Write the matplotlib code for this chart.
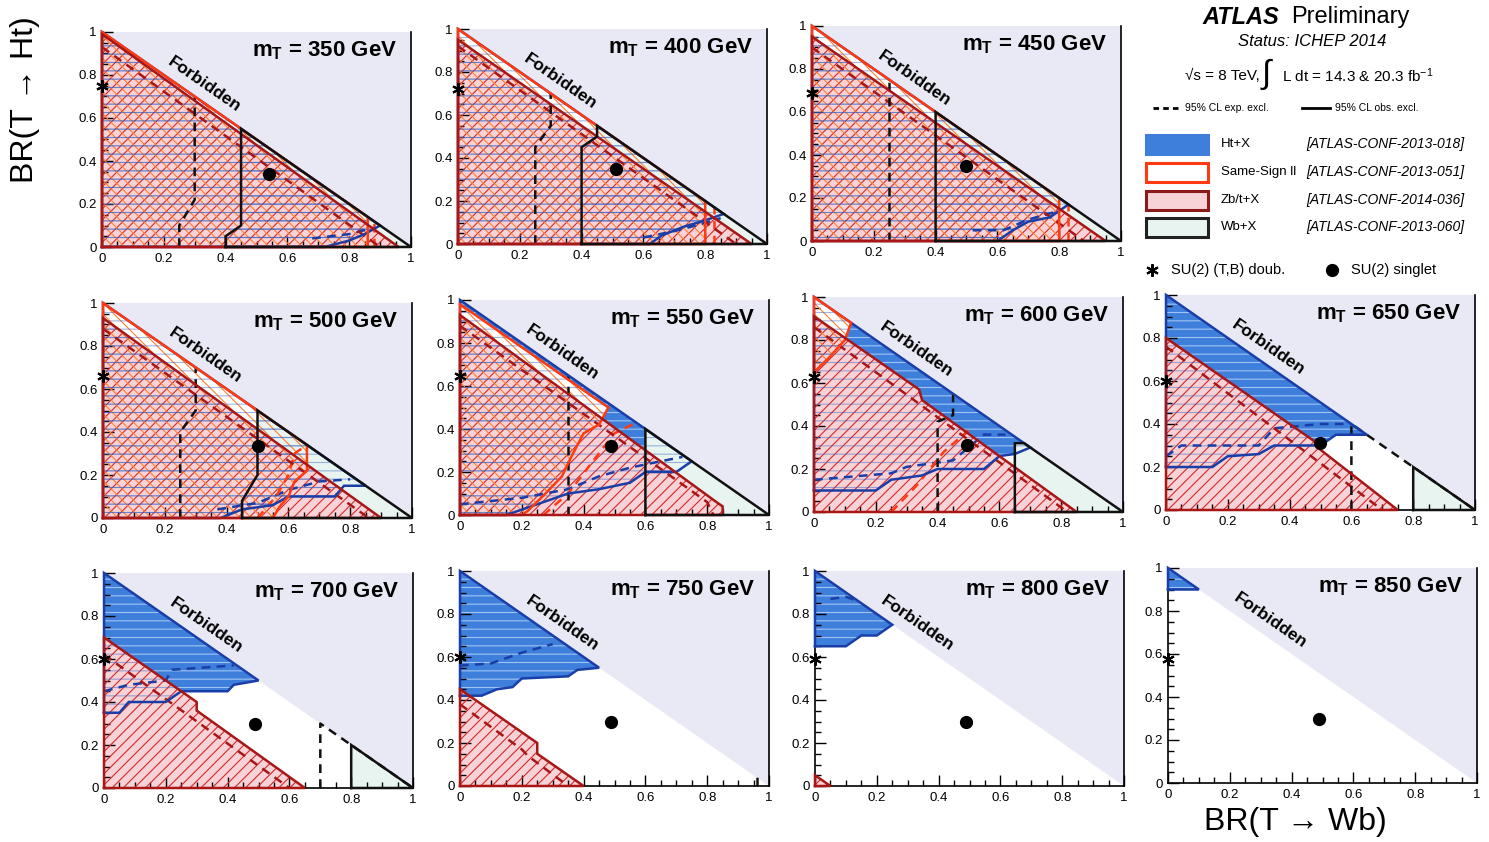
import numpy as np
import matplotlib
matplotlib.use("Agg")
import matplotlib.pyplot as plt
from matplotlib.patches import Polygon, Rectangle
from matplotlib.ticker import MultipleLocator, FuncFormatter

plt.rcParams["font.family"] = ["Liberation Sans", "DejaVu Sans"]
plt.rcParams["mathtext.fontset"] = "custom"
plt.rcParams["mathtext.rm"] = "Liberation Sans"
plt.rcParams["mathtext.it"] = "Liberation Sans:italic"
plt.rcParams["mathtext.bf"] = "Liberation Sans:bold"
plt.rcParams["hatch.linewidth"] = 0.8

# T quark masses (GeV), one panel each
masses = [350, 400, 450, 500, 550, 600, 650, 700, 750, 800, 850]

# benchmark points: SU(2) singlet (Wb, Ht) and SU(2) doublet (Wb = 0, Ht)
singlet_wb = [0.54, 0.51, 0.50, 0.50, 0.49, 0.495, 0.497, 0.49, 0.49, 0.49, 0.49]
singlet_ht = [0.34, 0.35, 0.35, 0.335, 0.32, 0.31, 0.31, 0.30, 0.30, 0.30, 0.30]
doublet_ht = [0.75, 0.72, 0.69, 0.66, 0.645, 0.63, 0.60, 0.60, 0.60, 0.59, 0.575]

# observed / expected 95% CL excluded regions, (BR(Wb), BR(Ht)) vertices
zbt_obs = {
    350: [(0, 0), (0, 0.99), (0.96, 0)],
    400: [(0, 0), (0, 0.95), (0.95, 0)],
    450: [(0, 0), (0, 0.95), (0.95, 0)],
    500: [(0, 0), (0, 0.93), (0.90, 0)],
    550: [(0, 0), (0, 0.93), (0.83, 0.06), (0.85, 0.04), (0.85, 0)],
    600: [(0, 0), (0, 0.91), (0.34, 0.57), (0.35, 0.52), (0.85, 0)],
    650: [(0, 0), (0, 0.80), (0.48, 0.32), (0.50, 0.28), (0.75, 0)],
    700: [(0, 0), (0, 0.70), (0.30, 0.40), (0.30, 0.36), (0.65, 0)],
    750: [(0, 0), (0, 0.45), (0.25, 0.20), (0.25, 0.15), (0.40, 0)],
    800: [(0, 0), (0, 0.05), (0.05, 0)],
}
zbt_exp = {
    350: [(0, 0.93), (0.90, 0)],
    400: [(0, 0.92), (0.90, 0)],
    450: [(0, 0.90), (0.88, 0)],
    500: [(0, 0.88), (0.86, 0)],
    550: [(0, 0.88), (0.80, 0.06), (0.82, 0)],
    600: [(0, 0.86), (0.82, 0)],
    650: [(0, 0.76), (0.70, 0)],
    700: [(0, 0.62), (0.60, 0)],
    750: [(0, 0.38), (0.20, 0.17), (0.22, 0.14), (0.35, 0)],
}
ss_obs = {
    350: [(0, 0), (0, 1), (0.86, 0.14), (0.86, 0)],
    400: [(0, 0), (0, 1), (0.80, 0.20), (0.80, 0)],
    450: [(0, 0), (0, 1), (0.80, 0.20), (0.80, 0)],
    500: [(0, 0), (0, 1), (0.66, 0.34), (0.66, 0.22), (0.62, 0.17),
          (0.60, 0.10), (0.57, 0.05), (0.55, 0)],
    550: [(0, 0), (0, 0.98), (0.48, 0.50), (0.45, 0.42), (0.40, 0.38),
          (0.36, 0.27), (0.33, 0.18), (0.27, 0.09), (0.22, 0.02), (0.20, 0)],
    600: [(0, 0.65), (0, 1), (0.12, 0.88), (0.10, 0.80), (0.05, 0.72)],
}
ss_exp = {
    350: [(0.88, 0), (0.88, 0.12)],
    400: [(0.83, 0), (0.83, 0.17)],
    450: [(0.83, 0), (0.83, 0.17)],
    500: [(0.50, 0), (0.56, 0.10), (0.60, 0.20), (0.62, 0.30), (0.66, 0.34)],
    550: [(0.27, 0), (0.35, 0.10), (0.43, 0.25), (0.50, 0.38), (0.57, 0.43)],
    600: [(0.25, 0), (0.33, 0.12), (0.42, 0.28), (0.50, 0.38)],
}
ht_obs = {
    350: [(0, 0), (0, 1), (0.90, 0.10), (0.85, 0.06), (0.80, 0.03), (0.72, 0)],
    400: [(0, 0), (0, 1), (0.86, 0.14), (0.80, 0.11), (0.73, 0.08),
          (0.66, 0.04), (0.62, 0)],
    450: [(0, 0), (0, 1), (0.83, 0.17), (0.77, 0.11), (0.70, 0.09),
          (0.65, 0.05), (0.60, 0)],
    500: [(0, 0), (0, 1), (0.85, 0.15), (0.78, 0.15), (0.75, 0.10),
          (0.60, 0.10), (0.55, 0.06), (0.45, 0.04), (0.38, 0)],
    550: [(0, 0), (0, 1), (0.75, 0.25), (0.70, 0.20), (0.60, 0.20),
          (0.55, 0.15), (0.45, 0.12), (0.35, 0.10), (0.25, 0.05), (0.15, 0)],
    600: [(0, 0.10), (0, 1), (0.70, 0.30), (0.65, 0.27), (0.60, 0.26),
          (0.55, 0.20), (0.40, 0.20), (0.35, 0.17), (0.25, 0.15), (0.20, 0.10)],
    650: [(0, 0.20), (0, 1), (0.65, 0.35), (0.55, 0.35), (0.50, 0.30),
          (0.35, 0.30), (0.30, 0.26), (0.20, 0.25), (0.15, 0.20)],
    700: [(0, 0.35), (0, 1), (0.50, 0.50), (0.42, 0.48), (0.40, 0.45),
          (0.25, 0.45), (0.20, 0.40), (0.08, 0.40), (0.05, 0.35)],
    750: [(0, 0.42), (0, 1), (0.45, 0.55), (0.38, 0.54), (0.35, 0.51),
          (0.20, 0.50), (0.17, 0.46), (0.12, 0.45), (0.07, 0.42)],
    800: [(0, 0.65), (0, 1), (0.25, 0.75), (0.20, 0.70), (0.15, 0.70),
          (0.10, 0.65)],
    850: [(0, 0.90), (0, 1), (0.10, 0.90)],
}
ht_exp = {
    350: [(0.68, 0.04), (0.80, 0.06), (0.88, 0.09)],
    400: [(0.60, 0.03), (0.70, 0.06), (0.78, 0.09), (0.85, 0.12)],
    450: [(0.52, 0.05), (0.62, 0.05), (0.70, 0.10), (0.80, 0.14)],
    500: [(0.37, 0.04), (0.50, 0.07), (0.60, 0.13), (0.70, 0.17), (0.80, 0.18)],
    550: [(0, 0.05), (0.20, 0.08), (0.35, 0.12), (0.45, 0.18), (0.55, 0.22),
          (0.65, 0.25), (0.72, 0.27)],
    600: [(0, 0.15), (0.25, 0.18), (0.30, 0.21), (0.45, 0.24), (0.50, 0.30),
          (0.55, 0.36), (0.62, 0.36)],
    650: [(0, 0.25), (0.05, 0.30), (0.30, 0.30), (0.35, 0.38), (0.50, 0.40),
          (0.60, 0.40)],
    700: [(0, 0.45), (0.08, 0.48), (0.20, 0.50), (0.22, 0.55), (0.42, 0.57)],
    750: [(0, 0.56), (0.10, 0.57), (0.20, 0.62), (0.30, 0.66)],
    800: [(0.05, 0.87), (0.10, 0.88), (0.14, 0.86)],
}
wb_obs = {
    350: [(0.40, 0), (0.40, 0.05), (0.45, 0.10), (0.45, 0.55), (1, 0)],
    400: [(0.40, 0), (0.40, 0.45), (0.45, 0.50), (0.45, 0.55), (1, 0)],
    450: [(0.40, 0), (0.40, 0.60), (1, 0)],
    500: [(0.45, 0), (0.45, 0.08), (0.50, 0.20), (0.50, 0.50), (1, 0)],
    550: [(0.60, 0), (0.60, 0.40), (1, 0)],
    600: [(0.65, 0), (0.65, 0.32), (0.68, 0.32), (1, 0)],
    650: [(0.80, 0), (0.80, 0.20), (1, 0)],
    700: [(0.80, 0), (0.80, 0.20), (1, 0)],
}
wb_exp = {
    350: [(0.25, 0), (0.25, 0.10), (0.30, 0.22), (0.30, 0.70)],
    400: [(0.25, 0), (0.25, 0.45), (0.30, 0.55), (0.30, 0.70)],
    450: [(0.25, 0), (0.25, 0.75)],
    500: [(0.25, 0), (0.25, 0.40), (0.30, 0.50), (0.30, 0.70)],
    550: [(0.35, 0), (0.35, 0.65)],
    600: [(0.40, 0), (0.40, 0.42), (0.45, 0.45), (0.45, 0.55)],
    650: [(0.60, 0), (0.60, 0.40), (1, 0)],
    700: [(0.70, 0), (0.70, 0.30), (1, 0)],
    750: [(0.96, 0), (0.96, 0.04)],
}

# colours
FORBID = "#e9e9f5"
HT_FILL, HT_LIGHT, HT_DARK, HT_LINE = "#3f7fdc", "#9fc3f2", "#3060c8", "#1a3ea8"
SS_HATCH, SS_LINE = "#ff8030", "#ff3a10"
ZBT_FILL, ZBT_HATCH, ZBT_LINE = "#f7d2d6", "#d42a2a", "#a81616"
WB_FILL, WB_LINE = "#e8f4ef", "#111111"

W, H = 1489, 842
PW, PH = 309, 215
panel_left = [102, 458, 812, 103, 460, 814, 1166, 104, 460, 815, 1168]
panel_bottom = [247, 244, 241, 518, 515, 512, 510, 788, 786, 786, 783]

fig = plt.figure(figsize=(W / 100, H / 100), dpi=100)
text_angle = -np.degrees(np.arctan2(PH, PW))


def xs_ys(pts, close=False):
    xs = [p[0] for p in pts]
    ys = [p[1] for p in pts]
    if close:
        xs.append(xs[0])
        ys.append(ys[0])
    return xs, ys


def draw_panel(ax, m, sx, sy, dy):
    ax.set_xlim(0, 1)
    ax.set_ylim(0, 1)
    ax.fill([0, 1, 1], [1, 1, 0], color=FORBID, lw=0, zorder=0)

    covers = []
    if m in ht_obs:
        ax.add_patch(Polygon(ht_obs[m], facecolor=HT_FILL, edgecolor="none", zorder=1))
        ax.add_patch(Polygon(ht_obs[m], fill=False, hatch="--", edgecolor=HT_LIGHT,
                             lw=0, zorder=1.01))
    if m in ss_obs:
        p = Polygon(ss_obs[m], facecolor="white", edgecolor="none", zorder=1.1)
        ax.add_patch(p)
        covers.append(p)
    if m in wb_obs:
        p = Polygon(wb_obs[m], facecolor=WB_FILL, edgecolor="none", zorder=1.2)
        ax.add_patch(p)
        covers.append(p)
    if m in zbt_obs:
        p = Polygon(zbt_obs[m], facecolor=ZBT_FILL, edgecolor="none", zorder=1.3)
        ax.add_patch(p)
        covers.append(p)
        ax.add_patch(Polygon(zbt_obs[m], fill=False, hatch="///", edgecolor=ZBT_HATCH,
                             lw=0, zorder=2.0))
    if m in ss_obs:
        ax.add_patch(Polygon(ss_obs[m], fill=False, hatch="\\\\\\", edgecolor=SS_HATCH,
                             lw=0, zorder=2.1))
    if m in ht_obs:
        # Ht+X stripes stay visible where other fills sit on top of it
        for c in covers:
            h = Polygon(ht_obs[m], fill=False, hatch="--", edgecolor=HT_DARK,
                        lw=0, zorder=2.2, alpha=0.45)
            ax.add_patch(h)
            h.set_clip_path(c)

    # expected (dashed) then observed (solid) contours
    for data, col in [(ht_exp, HT_LINE), (ss_exp, SS_LINE), (zbt_exp, ZBT_LINE),
                      (wb_exp, WB_LINE)]:
        if m in data:
            x, y = xs_ys(data[m])
            ax.plot(x, y, color=col, lw=1.8, ls=(0, (3.5, 2.5)), zorder=3,
                    clip_on=False)
    for data, col in [(ht_obs, HT_LINE), (ss_obs, SS_LINE), (zbt_obs, ZBT_LINE),
                      (wb_obs, WB_LINE)]:
        if m in data:
            x, y = xs_ys(data[m], close=True)
            ax.plot(x, y, color=col, lw=1.8, zorder=4, clip_on=False,
                    solid_joinstyle="miter")

    ax.plot([0], [dy], marker=(6, 2, 0), ms=9, mew=1.5, color="black",
            zorder=5, clip_on=False)
    ax.plot([sx], [sy], marker="o", ms=8.5, color="black", zorder=5)

    ax.text(0.33, 0.755, "Forbidden", rotation=text_angle, ha="center",
            va="center", fontsize=12.5, fontweight="bold", rotation_mode="anchor",
            zorder=6)
    ax.text(0.955, 0.885, "m$_\\mathbf{T}$ = %d GeV" % m, ha="right",
            va="baseline", fontsize=16, fontweight="bold", zorder=6)

    ax.xaxis.set_major_locator(MultipleLocator(0.2))
    ax.yaxis.set_major_locator(MultipleLocator(0.2))
    ax.xaxis.set_minor_locator(MultipleLocator(0.05))
    ax.yaxis.set_minor_locator(MultipleLocator(0.05))
    fmt = FuncFormatter(lambda v, p: "%g" % round(v, 2))
    ax.xaxis.set_major_formatter(fmt)
    ax.yaxis.set_major_formatter(fmt)
    ax.tick_params(which="both", direction="in", top=False, right=False,
                   labelsize=9.5, width=1.0)
    ax.tick_params(which="major", length=8, pad=4)
    ax.tick_params(which="minor", length=4)
    ax.spines["top"].set_visible(False)
    for s in ["left", "bottom", "right"]:
        ax.spines[s].set_linewidth(1.2)


for i, m in enumerate(masses):
    ax = fig.add_axes([panel_left[i] / W, 1 - panel_bottom[i] / H, PW / W, PH / H])
    draw_panel(ax, m, singlet_wb[i], singlet_ht[i], doublet_ht[i])

fig.text(25 / W, 1 - 100 / H, "BR(T → Ht)", rotation=90, ha="center",
         va="center", fontsize=23)
fig.text(1295 / W, 1 - 822 / H, "BR(T → Wb)", ha="center", va="center",
         fontsize=23)

# legend block, drawn in pixel units
lg = fig.add_axes([1130 / W, 1 - 290 / H, 359 / W, 290 / H])
lg.set_xlim(1130, 1489)
lg.set_ylim(290, 0)
lg.axis("off")

lg.text(1202, 17, "ATLAS", fontsize=17, fontweight="bold", fontstyle="italic",
        ha="left", va="center")
lg.text(1291, 17, "Preliminary", fontsize=17, ha="left", va="center")
lg.text(1312, 42, "Status: ICHEP 2014", fontsize=12, fontstyle="italic",
        ha="center", va="center")
lg.text(1185, 76, "√s = 8 TeV,", fontsize=11, ha="left", va="center")
lg.text(1262, 74, "∫", fontsize=24, ha="left", va="center")
lg.text(1282, 76, "L dt = 14.3 & 20.3 fb$^{-1}$", fontsize=11, ha="left",
        va="center")

lg.plot([1153, 1180], [108, 108], color="black", lw=2, ls=(0, (2, 1.5)))
lg.text(1185, 108, "95% CL exp. excl.", fontsize=7.5, ha="left", va="center")
lg.plot([1302, 1330], [108, 108], color="black", lw=2)
lg.text(1335, 108, "95% CL obs. excl.", fontsize=7.5, ha="left", va="center")

legend_names = ["Ht+X", "Same-Sign ll", "Zb/t+X", "Wb+X"]
legend_refs = ["[ATLAS-CONF-2013-018]", "[ATLAS-CONF-2013-051]",
               "[ATLAS-CONF-2014-036]", "[ATLAS-CONF-2013-060]"]
legend_face = [HT_FILL, "white", ZBT_FILL, WB_FILL]
legend_edge = [HT_FILL, SS_LINE, "#8b1a1a", "#222222"]
legend_y = [144, 172, 200, 227]
for name, ref, fc, ec, y in zip(legend_names, legend_refs, legend_face,
                                legend_edge, legend_y):
    lg.add_patch(Rectangle((1146, y - 9.5), 62, 19, facecolor=fc, edgecolor=ec,
                           lw=2.2))
    lg.text(1221, y, name, fontsize=9.5, ha="left", va="center")
    lg.text(1464, y, ref, fontsize=10, fontstyle="italic", ha="right", va="center")

lg.plot([1152], [270], marker=(6, 2, 0), ms=9, mew=1.5, color="black")
lg.text(1171, 270, "SU(2) (T,B) doub.", fontsize=10.5, ha="left", va="center")
lg.plot([1332], [270], marker="o", ms=8.5, color="black")
lg.text(1351, 270, "SU(2) singlet", fontsize=10.5, ha="left", va="center")

fig.savefig("out.png", dpi=100)
